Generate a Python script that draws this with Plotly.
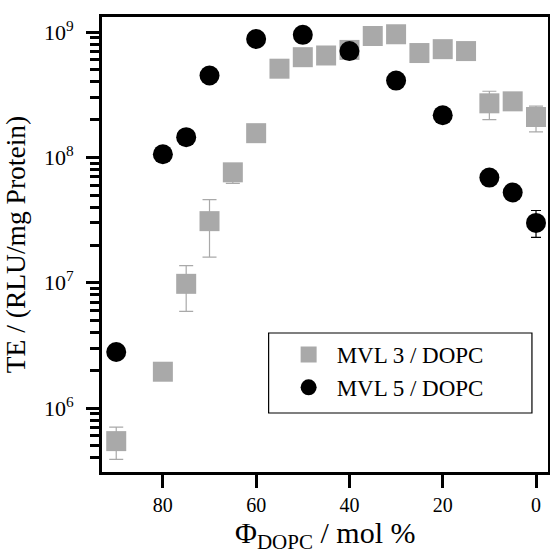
import plotly.graph_objects as go

# MVL 3 / DOPC (gray squares)
x_mvl3 = [90, 80, 75, 70, 65, 60, 55, 50, 45, 40, 35, 30, 25, 20, 15, 10, 5, 0]
y_mvl3 = [5.45e5, 1.95e6, 9.8e6, 3.1e7, 7.6e7, 1.56e8, 5.1e8, 6.3e8, 6.5e8, 7.2e8,
          9.3e8, 9.6e8, 6.8e8, 7.3e8, 7.05e8, 2.7e8, 2.8e8, 2.1e8]
err_plus_mvl3 = [1.6e5, 0, 3.9e6, 1.5e7, 0, 0, 0, 0, 0, 0,
                 0, 0, 0, 0, 0, 6.7e7, 0, 4.6e7]
err_minus_mvl3 = [1.55e5, 0, 3.9e6, 1.5e7, 1.4e7, 0, 0, 0, 0, 0,
                  0, 0, 0, 0, 0, 7.0e7, 0, 5.0e7]

# MVL 5 / DOPC (black circles)
x_mvl5 = [90, 80, 75, 70, 60, 50, 40, 30, 20, 10, 5, 0]
y_mvl5 = [2.8e6, 1.06e8, 1.45e8, 4.5e8, 8.8e8, 9.5e8, 7.05e8, 4.1e8, 2.17e8,
          6.9e7, 5.25e7, 3.0e7]
err_plus_mvl5 = [0, 0, 0, 0, 0, 0, 0, 0, 0, 0, 0, 7.7e6]
err_minus_mvl5 = [0, 0, 0, 0, 0, 0, 0, 0, 0, 0, 0, 7.0e6]

x_ticks = [80, 60, 40, 20, 0]
y_major = [1e6, 1e7, 1e8, 1e9]
y_major_labels = ["10<sup>6</sup>", "10<sup>7</sup>", "10<sup>8</sup>", "10<sup>9</sup>"]
y_minor = [k * 10 ** n for n in range(5, 9) for k in range(2, 10)]

x_title = "Φ<sub>DOPC</sub> / mol %"
y_title = "TE / (RLU/mg Protein)"

FONT = "Liberation Serif"
GRAY = "#a9a9a9"

fig = go.Figure()
fig.add_trace(go.Scatter(
    x=x_mvl3, y=y_mvl3, mode="markers", name="MVL 3 / DOPC",
    marker=dict(symbol="square", size=20, color=GRAY),
    error_y=dict(type="data", array=err_plus_mvl3, arrayminus=err_minus_mvl3,
                 color=GRAY, thickness=1.2, width=7, symmetric=False),
    cliponaxis=False,
))
fig.add_trace(go.Scatter(
    x=x_mvl5, y=y_mvl5, mode="markers", name="MVL 5 / DOPC",
    marker=dict(symbol="circle", size=20, color="black"),
    error_y=dict(type="data", array=err_plus_mvl5, arrayminus=err_minus_mvl5,
                 color="black", thickness=1.2, width=5, symmetric=False),
    cliponaxis=False,
))

# legend frame
fig.add_shape(type="rect", xref="paper", yref="paper",
              x0=0.3736, x1=0.964, y0=0.1297, y1=0.3055,
              line=dict(color="black", width=1.2), fillcolor="rgba(0,0,0,0)")

# x-axis title as annotation
fig.add_annotation(text=x_title, xref="paper", yref="paper",
                   x=0.5, y=-0.1375, xanchor="center", yanchor="middle",
                   showarrow=False, font=dict(size=30, family=FONT, color="black"))

fig.update_layout(
    width=550, height=553,
    margin=dict(l=102, r=2, t=17, b=81, autoexpand=False),
    paper_bgcolor="white", plot_bgcolor="white",
    font=dict(family=FONT, color="black", size=20),
    showlegend=True,
    legend=dict(x=0.3736, y=0.3055, xanchor="left", yanchor="top",
                borderwidth=0, bgcolor="rgba(0,0,0,0)",
                itemwidth=46, indentation=12,
                font=dict(size=23, family=FONT)),
    xaxis=dict(
        range=[93.05, -2.57], tickvals=x_ticks,
        ticks="outside", ticklen=13, tickwidth=3, tickcolor="black",
        showline=True, linecolor="black", linewidth=3, mirror=True,
        showgrid=False, zeroline=False, automargin=False,
        tickfont=dict(size=20), ticklabelstandoff=0,
    ),
    yaxis=dict(
        type="log", range=[5.49, 9.12],
        tickvals=y_major, ticktext=y_major_labels,
        ticks="outside", ticklen=13, tickwidth=3, tickcolor="black",
        minor=dict(tickvals=y_minor, ticks="outside", ticklen=9, tickwidth=2.5,
                   tickcolor="black", showgrid=False),
        showline=True, linecolor="black", linewidth=3, mirror=True,
        showgrid=False, zeroline=False, automargin=False,
        tickfont=dict(size=22), ticklabelstandoff=8,
        title=dict(text=y_title, font=dict(size=27.5), standoff=12),
    ),
)

fig.write_html("out.html", config={"displayModeBar": False},
               post_script="document.body.style.margin='0';")
